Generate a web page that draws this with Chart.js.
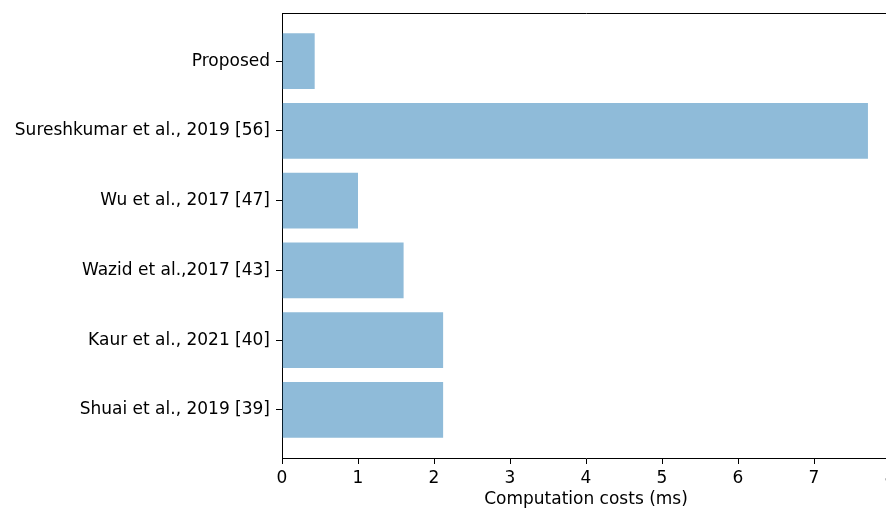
<!DOCTYPE html>
<html>
<head>
<meta charset="utf-8">
<script src="https://cdn.jsdelivr.net/npm/chart.js@4"></script>
<style>
  html, body { margin:0; padding:0; background:#fff; overflow:hidden; }
  #clip { width:886px; height:508px; overflow:hidden; position:relative; }
  canvas { display:block; }
</style>
</head>
<body>
<div id="clip"><canvas id="c" width="900" height="508"></canvas></div>
<script>
// === data (top to bottom, as shown) ===
const schemes = [
  "Proposed",
  "Sureshkumar et al., 2019 [56]",
  "Wu et al., 2017 [47]",
  "Wazid et al.,2017 [43]",
  "Kaur et al., 2021 [40]",
  "Shuai et al., 2019 [39]"
];
const costsMs = [0.43, 7.71, 1.0, 1.6, 2.12, 2.12];
const xTicks = [0, 1, 2, 3, 4, 5, 6, 7, 8];

Chart.defaults.font.family = "'DejaVu Sans', sans-serif";
Chart.defaults.font.size = 17;
Chart.defaults.color = "#000";

// top spine (left/bottom come from the axis borders; the right one sits past the window edge)
const frame = {
  id: "frame",
  afterDraw(chart){
    const {ctx, chartArea:a} = chart;
    const t = Math.round(a.top)+0.5;
    ctx.save();
    ctx.strokeStyle = "#000"; ctx.lineWidth = 1;
    ctx.beginPath();
    ctx.moveTo(Math.round(a.left), t); ctx.lineTo(Math.round(a.right)+1, t);
    ctx.stroke();
    ctx.restore();
  }
};

new Chart(document.getElementById("c"), {
  type: "bar",
  data: {
    datasets: [{
      data: costsMs.map((v,i)=>({x:v, y:i})),
      backgroundColor: "rgba(31,119,180,0.5)",
      borderWidth: 0,
      categoryPercentage: 0.8,
      barPercentage: 1
    }]
  },
  options: {
    indexAxis: "y",
    responsive: false,
    animation: false,
    layout: { padding: { top: 13, right: 10, left: 0, bottom: 0 } },
    plugins: { legend: {display:false}, tooltip: {enabled:false} },
    scales: {
      x: {
        type: "linear", min: 0, max: 8,
        afterBuildTicks: s => { s.ticks = xTicks.map(v=>({value:v})); },
        afterFit: s => { s.height = 50; s.paddingLeft = 0; s.paddingRight = 0; },
        grid: { drawOnChartArea:false, tickLength:6, color:"#000" },
        border: { color:"#000" },
        ticks: { padding: 4, maxRotation: 0, autoSkip: false },
        title: { display:true, text:"Computation costs (ms)", font:{lineHeight:1}, padding:{top:0,bottom:0} }
      },
      y: {
        type: "linear", reverse: true, min: -0.69, max: 5.69, offset: false,
        afterBuildTicks: s => { s.ticks = schemes.map((_,i)=>({value:i})); },
        afterFit: s => { s.width = 282; s.paddingTop = 0; s.paddingBottom = 0; },
        grid: { drawOnChartArea:false, offset:false, tickLength:6, color:"#000" },
        border: { color:"#000" },
        ticks: { padding: 6, autoSkip: false, callback: v => schemes[v] ?? "" }
      }
    }
  },
  plugins: [frame]
});
</script>
</body>
</html>
